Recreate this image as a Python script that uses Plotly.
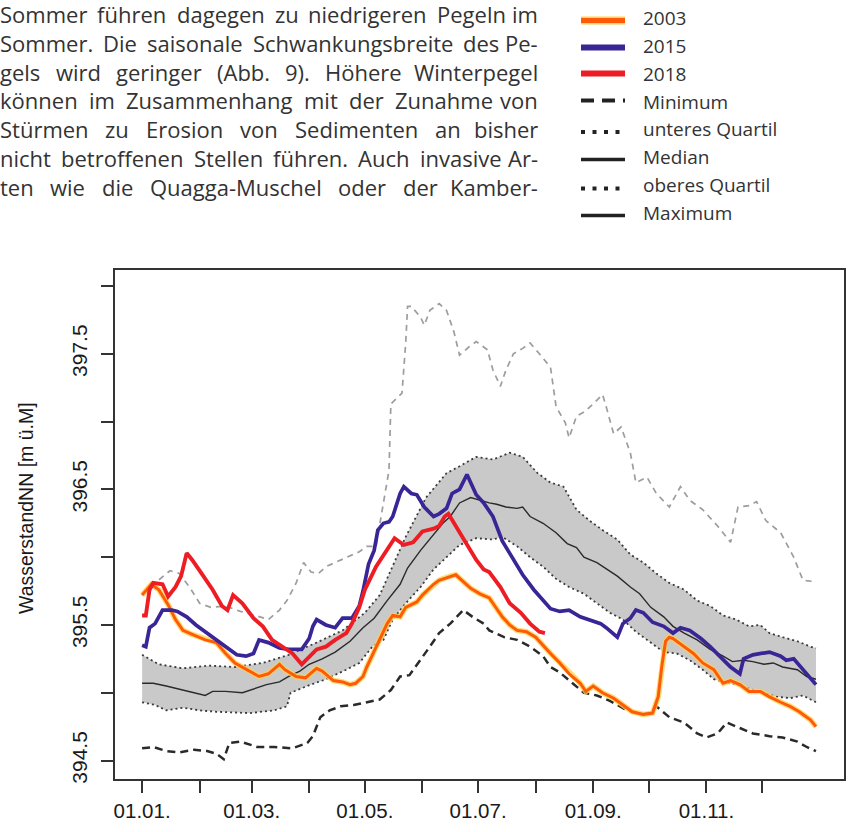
import plotly.graph_objects as go

# ---------------- data ----------------
month_days = [0, 31, 59, 90, 120, 151, 181, 212, 243, 273, 304, 334]
month_labels = ["01.01.", "", "01.03.", "", "01.05.", "", "01.07.", "", "01.09.", "", "01.11.", ""]
y_ticks = [394.5, 395.0, 395.5, 396.0, 396.5, 397.0, 397.5, 398.0]
y_labels = ["394.5", "", "395.5", "", "396.5", "", "397.5", ""]

days_2003 = [0, 5, 9, 14, 18, 22, 27, 31, 34, 40, 45, 50, 58, 63, 68, 74, 77, 83, 88, 94, 97, 103, 108, 112,
             115, 119, 121, 126, 132, 135, 139, 142, 148, 151, 157, 160, 166, 169, 173, 177, 182, 187, 190, 194,
             198, 202, 207, 212, 220, 225, 230, 236, 239, 243, 248, 254, 259, 264, 270, 275, 278, 280, 282, 284,
             286, 291, 297, 302, 308, 313, 317, 322, 327, 333, 338, 344, 349, 354, 360, 363]
level_2003 = [395.72, 395.80, 395.76, 395.65, 395.54, 395.46, 395.43, 395.41, 395.39, 395.37, 395.29, 395.22,
              395.16, 395.12, 395.14, 395.21, 395.17, 395.12, 395.11, 395.18, 395.16, 395.09, 395.08, 395.06,
              395.07, 395.12, 395.19, 395.34, 395.51, 395.57, 395.56, 395.63, 395.67, 395.72, 395.80, 395.83,
              395.86, 395.87, 395.82, 395.77, 395.73, 395.70, 395.64, 395.56, 395.50, 395.46, 395.45, 395.41,
              395.29, 395.22, 395.14, 395.07, 395.01, 395.05, 395.00, 394.96, 394.91, 394.86, 394.84, 394.85,
              394.97, 395.20, 395.38, 395.41, 395.40, 395.35, 395.29, 395.22, 395.17, 395.07, 395.09, 395.06,
              395.01, 395.01, 394.97, 394.93, 394.90, 394.86, 394.80, 394.75]

days_2015 = [0, 2, 4, 7, 11, 16, 19, 24, 29, 34, 40, 45, 51, 56, 60, 63, 68, 74, 79, 86, 90, 92, 94, 99, 104,
             108, 113, 117, 119, 122, 125, 127, 130, 133, 135, 139, 141, 145, 148, 152, 157, 160, 164, 167, 171,
             175, 178, 180, 184, 189, 194, 198, 200, 205, 211, 216, 220, 225, 230, 236, 241, 247, 250, 256, 259,
             263, 266, 270, 275, 281, 286, 290, 295, 301, 306, 311, 317, 322, 324, 329, 335, 338, 344, 347, 351,
             356, 363]
level_2015 = [395.35, 395.34, 395.48, 395.51, 395.61, 395.61, 395.60, 395.56, 395.50, 395.45, 395.39, 395.34,
              395.28, 395.27, 395.29, 395.39, 395.37, 395.33, 395.32, 395.32, 395.40, 395.49, 395.54, 395.50,
              395.48, 395.55, 395.55, 395.64, 395.75, 395.95, 396.05, 396.20, 396.25, 396.26, 396.30, 396.47,
              396.52, 396.47, 396.46, 396.37, 396.30, 396.32, 396.36, 396.47, 396.50, 396.61, 396.52, 396.46,
              396.40, 396.30, 396.12, 396.03, 395.98, 395.87, 395.76, 395.68, 395.62, 395.60, 395.61, 395.56,
              395.54, 395.51, 395.48, 395.41, 395.51, 395.55, 395.61, 395.59, 395.52, 395.49, 395.44, 395.48,
              395.46, 395.40, 395.34, 395.27, 395.19, 395.14, 395.25, 395.28, 395.29, 395.30, 395.27, 395.24,
              395.25, 395.17, 395.06]

days_2018 = [0, 2, 4, 6, 11, 14, 18, 21, 24, 27, 32, 38, 43, 46, 49, 54, 60, 65, 70, 76, 81, 86, 90, 94, 99,
             104, 110, 113, 117, 120, 126, 132, 136, 141, 146, 151, 157, 160, 163, 165, 169, 175, 180, 184, 187,
             193, 198, 204, 209, 214, 217]
level_2018 = [395.57, 395.57, 395.76, 395.81, 395.80, 395.71, 395.78, 395.86, 396.03, 395.98, 395.88, 395.76,
              395.64, 395.61, 395.72, 395.66, 395.55, 395.49, 395.39, 395.34, 395.29, 395.21, 395.27, 395.32,
              395.34, 395.39, 395.44, 395.51, 395.63, 395.76, 395.93, 396.05, 396.14, 396.09, 396.11, 396.19,
              396.21, 396.23, 396.30, 396.32, 396.23, 396.10, 395.98, 395.91, 395.89, 395.78, 395.66, 395.59,
              395.51, 395.45, 395.44]

days_median = [0, 6, 13, 22, 29, 34, 38, 45, 54, 60, 67, 74, 79, 85, 90, 97, 104, 112, 119, 125, 132, 139, 143,
               150, 157, 162, 166, 171, 177, 182, 187, 191, 196, 202, 205, 209, 216, 223, 229, 234, 238, 245,
               256, 263, 268, 274, 281, 286, 292, 299, 306, 313, 318, 324, 329, 335, 340, 345, 353, 358, 363]
level_median = [395.07, 395.07, 395.05, 395.02, 395.00, 394.98, 395.01, 395.01, 395.00, 395.03, 395.06, 395.08,
                395.12, 395.16, 395.21, 395.25, 395.30, 395.38, 395.48, 395.55, 395.68, 395.80, 395.92, 396.05,
                396.17, 396.25, 396.30, 396.40, 396.44, 396.42, 396.40, 396.39, 396.37, 396.36, 396.37, 396.30,
                396.25, 396.18, 396.10, 396.07, 396.00, 395.96, 395.86, 395.78, 395.73, 395.63, 395.56, 395.49,
                395.44, 395.39, 395.32, 395.27, 395.23, 395.24, 395.23, 395.21, 395.22, 395.19, 395.17, 395.12,
                395.10]

days_upper = [0, 9, 22, 36, 50, 65, 79, 94, 108, 120, 128, 135, 142, 153, 164, 171, 180, 189, 198, 205, 213,
              220, 227, 234, 241, 248, 256, 263, 270, 277, 284, 292, 299, 306, 313, 320, 327, 333, 338, 345, 353,
              360, 363]
level_upper = [395.28, 395.21, 395.18, 395.20, 395.19, 395.22, 395.28, 395.37, 395.46, 395.59, 395.72, 395.93,
               396.15, 396.44, 396.62, 396.67, 396.74, 396.72, 396.77, 396.74, 396.62, 396.55, 396.52, 396.35,
               396.27, 396.20, 396.13, 396.02, 395.96, 395.88, 395.81, 395.76, 395.68, 395.64, 395.57, 395.54,
               395.49, 395.50, 395.44, 395.41, 395.38, 395.34, 395.33]

days_lower = [0, 7, 13, 22, 31, 40, 58, 71, 78, 80, 89, 99, 110, 117, 124, 130, 135, 142, 150, 157, 164, 171,
              180, 189, 194, 202, 209, 216, 223, 230, 238, 245, 252, 259, 266, 274, 281, 288, 295, 302, 308, 313,
              320, 327, 335, 342, 349, 356, 363]
level_lower = [394.93, 394.91, 394.87, 394.89, 394.87, 394.86, 394.85, 394.87, 394.90, 395.00, 395.05, 395.10,
               395.17, 395.22, 395.34, 395.39, 395.54, 395.66, 395.78, 395.91, 396.00, 396.09, 396.14, 396.13,
               396.15, 396.08, 396.00, 395.93, 395.84, 395.78, 395.73, 395.66, 395.59, 395.54, 395.45, 395.37,
               395.30, 395.29, 395.24, 395.17, 395.10, 395.08, 395.06, 395.03, 395.00, 394.97, 394.96, 394.98,
               394.93]

days_min = [0, 6, 13, 20, 28, 35, 40, 44, 47, 53, 62, 71, 81, 89, 92, 96, 101, 107, 114, 121, 128, 134, 139,
            144, 150, 155, 160, 166, 173, 178, 184, 187, 195, 202, 209, 216, 220, 225, 231, 238, 245, 252, 260,
            268, 273, 277, 284, 292, 299, 304, 310, 315, 322, 329, 338, 345, 353, 358, 363]
level_min = [394.59, 394.60, 394.57, 394.56, 394.58, 394.57, 394.55, 394.51, 394.63, 394.64, 394.60, 394.60,
             394.59, 394.63, 394.68, 394.82, 394.87, 394.90, 394.91, 394.93, 394.95, 395.02, 395.12, 395.13,
             395.24, 395.34, 395.44, 395.51, 395.61, 395.56, 395.51, 395.46, 395.41, 395.39, 395.34, 395.27,
             395.19, 395.15, 395.08, 395.00, 394.98, 394.94, 394.88, 394.84, 394.85, 394.90, 394.82, 394.78,
             394.70, 394.67, 394.70, 394.78, 394.74, 394.70, 394.68, 394.67, 394.64, 394.60, 394.57]

days_max = [0, 7, 15, 20, 26, 31, 37, 45, 53, 61, 68, 74, 78, 83, 87, 91, 95, 99, 104, 111, 117, 121, 126, 130,
            133, 134, 137, 140, 142, 143, 145, 150, 152, 155, 158, 160, 164, 168, 171, 176, 180, 186, 189, 193,
            196, 200, 205, 209, 214, 220, 223, 228, 230, 234, 238, 243, 248, 250, 254, 258, 263, 266, 272, 277,
            284, 290, 295, 302, 310, 317, 321, 327, 331, 336, 344, 347, 351, 356, 362, 363]
level_max = [395.73, 395.81, 395.90, 395.88, 395.77, 395.66, 395.63, 395.64, 395.60, 395.57, 395.54, 395.61,
             395.68, 395.81, 395.96, 395.89, 395.88, 395.93, 395.96, 396.00, 396.04, 396.08, 396.08, 396.40,
             396.64, 397.13, 397.17, 397.21, 397.58, 397.85, 397.85, 397.77, 397.71, 397.82, 397.85, 397.87,
             397.82, 397.66, 397.49, 397.55, 397.59, 397.53, 397.38, 397.26, 397.38, 397.50, 397.54, 397.58,
             397.50, 397.40, 397.11, 396.99, 396.88, 397.04, 397.07, 397.13, 397.20, 397.11, 396.91, 396.96,
             396.77, 396.55, 396.59, 396.47, 396.37, 396.52, 396.42, 396.35, 396.23, 396.11, 396.37, 396.38,
             396.41, 396.27, 396.18, 396.10, 396.00, 395.83, 395.82, 395.83]

legend_labels = ["2003", "2015", "2018", "Minimum", "unteres Quartil", "Median", "oberes Quartil", "Maximum"]

paragraph_lines = [
    "Sommer führen dagegen zu niedrigeren Pegeln im",
    "Sommer. Die saisonale Schwankungsbreite des Pe-",
    "gels wird geringer (Abb. 9). Höhere Winterpegel",
    "können im Zusammenhang mit der Zunahme von",
    "Stürmen zu Erosion von Sedimenten an bisher",
    "nicht betroffenen Stellen führen. Auch invasive Ar-",
    "ten wie die Quagga-Muschel oder der Kamber-",
]

y_title = "WasserstandNN [m ü.M]"

# ---------------- styles ----------------
C_2003 = "#ff5a0a"
C_2003_HALO = "#ffd34d"
C_2015 = "#3a2596"
C_2018 = "#ee1d24"
C_BAND = "#c9c9c9"
C_DARK = "#2a2a2a"
C_MAX = "#9d9d9d"
TEXT_FONT = "Open Sans"
AX_FONT = "Liberation Sans, Arial"

W, H = 851, 832
ML, MR, MT, MB = 115, 7, 270, 53
PW, PH = W - ML - MR, H - MT - MB


def pxx(x):
    return (x - ML) / PW


def pxy(y):
    return (H - MB - y) / PH


fig = go.Figure()

# quartile band
fig.add_trace(go.Scatter(x=days_upper + days_lower[::-1], y=level_upper + level_lower[::-1],
                         fill="toself", fillcolor=C_BAND, line=dict(width=0), mode="lines",
                         hoverinfo="skip"))
fig.add_trace(go.Scatter(x=days_upper, y=level_upper, mode="lines",
                         line=dict(color="#3a3a3a", width=1.8, dash="2px,3px")))
fig.add_trace(go.Scatter(x=days_lower, y=level_lower, mode="lines",
                         line=dict(color="#3a3a3a", width=1.8, dash="2px,3px")))
fig.add_trace(go.Scatter(x=days_median, y=level_median, mode="lines",
                         line=dict(color=C_DARK, width=1.4)))
fig.add_trace(go.Scatter(x=days_min, y=level_min, mode="lines",
                         line=dict(color=C_DARK, width=2.5, dash="8px,5px")))
fig.add_trace(go.Scatter(x=days_max, y=level_max, mode="lines",
                         line=dict(color=C_MAX, width=1.7, dash="6px,5px")))
fig.add_trace(go.Scatter(x=days_2003, y=level_2003, mode="lines",
                         line=dict(color=C_2003_HALO, width=5.5), opacity=0.8))
fig.add_trace(go.Scatter(x=days_2003, y=level_2003, mode="lines",
                         line=dict(color=C_2003, width=3.0)))
fig.add_trace(go.Scatter(x=days_2015, y=level_2015, mode="lines",
                         line=dict(color=C_2015, width=3.7)))
fig.add_trace(go.Scatter(x=days_2018, y=level_2018, mode="lines",
                         line=dict(color=C_2018, width=3.9)))

annotations = []
shapes = []

# y-axis title
annotations.append(dict(xref="paper", yref="paper", x=pxx(26), y=pxy(508), text=y_title,
                        textangle=-90, showarrow=False, xanchor="center", yanchor="middle",
                        font=dict(family=AX_FONT, size=19.5, color="#1a1a1a")))

# justified paragraph (approximate Open Sans advance widths in em)
EM = {' ': 0.26, 'a': 0.556, 'b': 0.613, 'c': 0.476, 'd': 0.613, 'e': 0.561, 'f': 0.339, 'g': 0.548,
      'h': 0.614, 'i': 0.253, 'j': 0.253, 'k': 0.525, 'l': 0.253, 'm': 0.930, 'n': 0.614, 'o': 0.604,
      'p': 0.613, 'q': 0.613, 'r': 0.408, 's': 0.477, 't': 0.353, 'u': 0.614, 'v': 0.501, 'w': 0.778,
      'x': 0.524, 'y': 0.502, 'z': 0.477, 'ä': 0.556, 'ö': 0.604, 'ü': 0.614, 'A': 0.633, 'B': 0.648,
      'D': 0.729, 'E': 0.556, 'H': 0.738, 'K': 0.573, 'M': 0.903, 'P': 0.604, 'Q': 0.742, 'S': 0.547,
      'W': 0.948, 'Z': 0.549, '.': 0.266, '-': 0.322, '(': 0.291, ')': 0.291, '9': 0.572}
P_FS = 22
P_LEFT, P_RIGHT = -2, 540
P_TOP, P_STEP = 14, 28.8
for i, line in enumerate(paragraph_lines):
    words = line.split(" ")
    widths = [sum(EM.get(c, 0.55) for c in w) * P_FS for w in words]
    gap = (P_RIGHT - P_LEFT - sum(widths)) / (len(words) - 1)
    yy = P_TOP + i * P_STEP
    xcur = P_LEFT
    for j, w in enumerate(words):
        last = j == len(words) - 1
        annotations.append(dict(xref="paper", yref="paper",
                                x=pxx(P_RIGHT if last else xcur), y=pxy(yy), text=w,
                                showarrow=False, xanchor="right" if last else "left",
                                yanchor="middle", font=dict(family=TEXT_FONT, size=P_FS, color="#333")))
        xcur += widths[j] + gap

# custom legend
L_X0, L_X1, L_TX = 581, 625, 641
text_y = [18.5, 46.2, 74, 101.7, 129.5, 157.2, 185, 212.7]
line_y = [20.5, 47.5, 73.5, 100.5, 132, 159.5, 188.5, 215.5]
legend_styles = [
    [dict(color=C_2003_HALO, width=8), dict(color=C_2003, width=5)],
    [dict(color=C_2015, width=6)],
    [dict(color=C_2018, width=6)],
    [dict(color="#222", width=4, dash="13px,8px")],
    [dict(color="#222", width=4, dash="4px,7.5px")],
    [dict(color="#222", width=3.5)],
    [dict(color="#222", width=4, dash="4px,7.5px")],
    [dict(color="#222", width=3.5)],
]
for k, lab in enumerate(legend_labels):
    for st in legend_styles[k]:
        shapes.append(dict(type="line", xref="paper", yref="paper", x0=pxx(L_X0), x1=pxx(L_X1),
                           y0=pxy(line_y[k]), y1=pxy(line_y[k]), line=st))
    annotations.append(dict(xref="paper", yref="paper", x=pxx(L_TX), y=pxy(text_y[k]), text=lab,
                            showarrow=False, xanchor="left", yanchor="middle",
                            font=dict(family=TEXT_FONT, size=19, color="#333")))

fig.update_layout(
    width=W, height=H, margin=dict(l=ML, r=MR, t=MT, b=MB, autoexpand=False),
    paper_bgcolor="white", plot_bgcolor="white", showlegend=False,
    font=dict(family=AX_FONT, color="#1a1a1a"),
    annotations=annotations, shapes=shapes,
    xaxis=dict(range=[-14.6, 378.1], tickmode="array", tickvals=month_days, ticktext=month_labels,
               ticks="outside", ticklen=12, tickwidth=1.8, tickcolor="#333", showline=True,
               linecolor="#333", linewidth=1.8, mirror=True, showgrid=False, zeroline=False,
               tickfont=dict(size=20.5, family=AX_FONT, color="#1a1a1a"), ticklabelstandoff=0),
    yaxis=dict(range=[394.364, 398.118], tickmode="array", tickvals=y_ticks, ticktext=y_labels,
               tickangle=-90, ticks="outside", ticklen=12, tickwidth=1.8, tickcolor="#333",
               showline=True, linecolor="#333", linewidth=1.8, mirror=True, showgrid=False,
               zeroline=False, tickfont=dict(size=21, family=AX_FONT, color="#1a1a1a"),
               ticklabelstandoff=6),
)

fig.write_html("out.html", config={"displayModeBar": False},
               post_script="document.body.style.margin='0px';")
